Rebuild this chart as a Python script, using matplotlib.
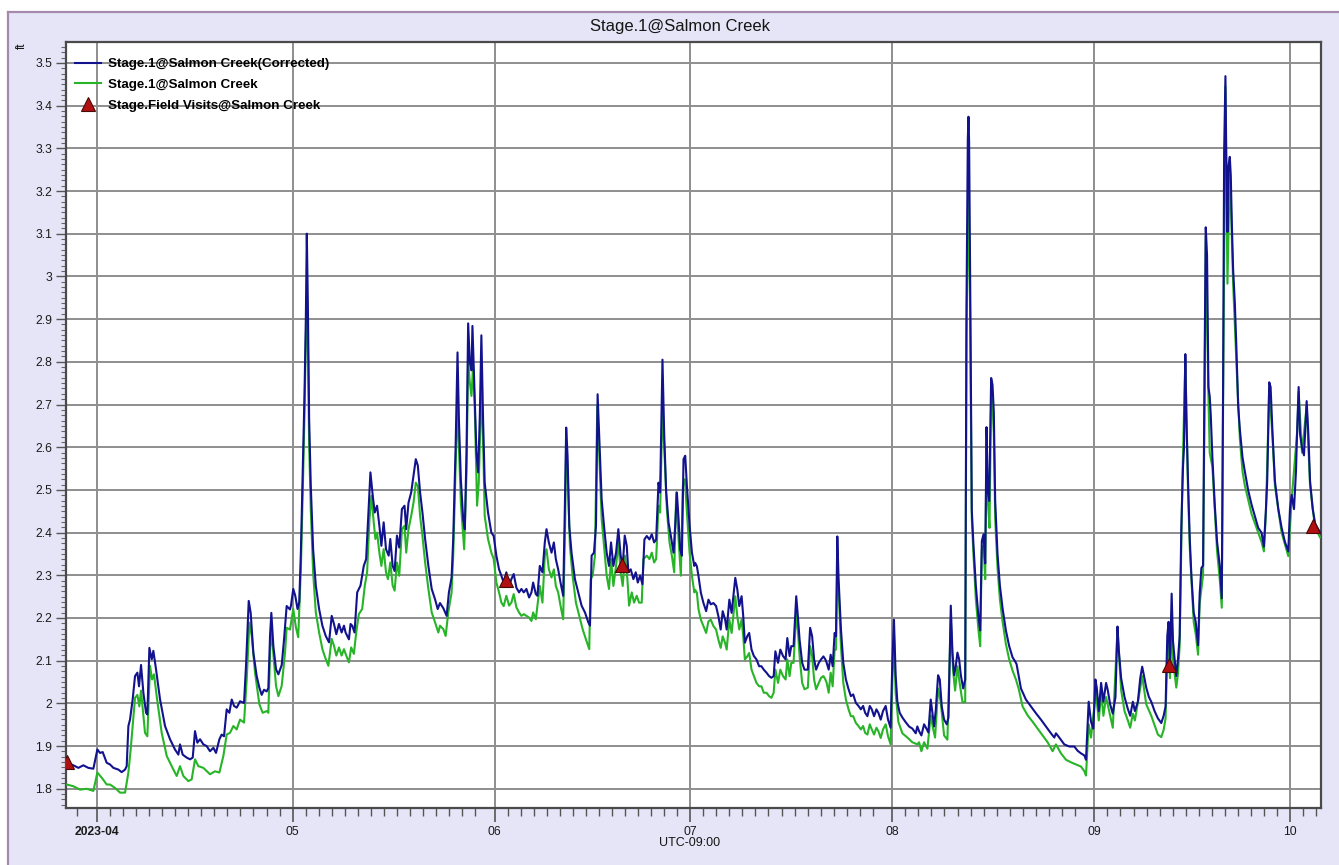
import numpy as np
import matplotlib
matplotlib.use("Agg")
import matplotlib.pyplot as plt
import matplotlib.dates as mdates
from matplotlib import font_manager
from matplotlib.ticker import MultipleLocator, FuncFormatter, FixedLocator
from matplotlib.lines import Line2D
from matplotlib.patches import Rectangle

# ---------------------------------------------------------------------------
# Data: days after 2023-04-01 00:00 (UTC-09:00) and stage in feet
# ---------------------------------------------------------------------------
START = np.datetime64("2023-04-01T00:00")

corr_day = [
    -4.6, -3.63, -2.86, -2.1, -1.33, -0.56, 0.05, 0.46, 0.87, 1.48, 1.99, 2.51, 3.27, 3.78,
    4.3, 4.55, 4.81, 5.06, 5.47, 5.83, 6.19, 6.44, 6.75, 7.11, 7.52, 7.72, 8.03, 8.39, 8.64,
    9.05, 9.66, 10.43, 11.2, 11.96, 12.48, 12.73, 13.14, 13.75, 14.27, 14.68, 15.03, 15.39,
    15.8, 16.31, 16.82, 17.33, 17.85, 18.25, 18.77, 19.12, 19.48, 19.89, 20.3, 20.66, 21.02,
    21.43, 21.94, 22.55, 22.86, 23.27, 23.57, 23.98, 24.49, 24.9, 25.26, 25.62, 26.02, 26.28,
    26.54, 26.74, 27.05, 27.46, 27.82, 28.33, 28.69, 29.09, 29.6,
    29.75, 30.1, 30.41, 30.76, 31.02, 31.27, 31.63, 31.83, 32.03, 32.18, 32.34, 32.54, 32.79,
    33.15, 33.56, 34.07, 34.57, 35.08, 35.59, 36.0, 36.35, 36.71, 37.11, 37.52, 37.88, 38.13,
    38.64, 38.89, 39.15, 39.5, 39.91, 40.42, 40.92, 41.28, 41.59, 41.94, 42.3, 42.6, 42.96,
    43.31, 43.62, 43.97, 44.33, 44.74, 44.99, 45.35, 45.65, 46.01, 46.36, 46.77, 47.17, 47.43,
    47.78, 48.19, 48.55, 48.9, 49.21, 49.56, 49.92, 50.33, 50.83, 51.34, 51.85, 52.26, 52.61,
    53.12, 53.63, 53.98, 54.39, 54.64, 55.0, 55.3, 55.51, 55.81, 56.17, 56.42, 56.68, 56.93,
    57.19, 57.44, 57.59, 57.85, 58.2, 58.46, 58.71, 58.96, 59.22, 59.47, 59.98, 60.49,
    60.85, 61.26, 61.67, 62.03, 62.38, 62.79, 63.21, 63.56, 63.92, 64.33, 64.74, 65.1, 65.46,
    65.87, 66.28, 66.64, 66.9, 67.31, 67.56, 67.92, 68.33, 68.69, 68.95, 69.31, 69.72, 70.08,
    70.38, 70.74, 71.1, 71.51, 71.77, 71.97, 72.18, 72.44, 72.79, 73.31, 73.82, 74.33, 74.85,
    75.36, 75.62, 75.87, 76.23, 76.54, 76.79, 77.05, 77.41, 77.77, 78.18, 78.54, 78.85, 79.21,
    79.62, 79.97, 80.33, 80.64, 80.95, 81.26, 81.51, 81.87, 82.28, 82.64, 82.95, 83.31, 83.67,
    83.97, 84.33, 84.74, 85.1, 85.46, 85.77, 86.13, 86.38, 86.74, 87.0, 87.31, 87.67, 88.03,
    88.44, 88.69, 88.95, 89.21, 89.46, 89.72, 89.97, 90.23, 90.49, 90.9, 91.26, 91.62,
    91.76, 92.02, 92.27, 92.63, 93.03, 93.44, 93.79, 94.15, 94.56, 94.96, 95.32, 95.67, 95.98,
    96.34, 96.59, 97.0, 97.35, 97.61, 97.91, 98.22, 98.52, 98.88, 99.13, 99.38, 99.74, 100.04,
    100.4, 100.76, 101.16, 101.57, 101.92, 102.28, 102.69, 103.09, 103.45, 103.8, 104.06,
    104.47, 104.82, 105.23, 105.63, 105.89, 106.24, 106.5, 106.85, 107.26, 107.51, 107.77,
    108.17, 108.53, 109.04, 109.39, 109.7, 110.0, 110.31, 110.72, 111.07, 111.43, 111.73,
    111.93, 112.24, 112.54, 112.85, 113.15, 113.36, 113.56, 113.76, 114.12, 114.48, 114.88,
    115.29, 115.64, 116.0, 116.41, 116.81, 117.17, 117.52, 117.83, 118.18, 118.54, 118.85,
    119.2, 119.56, 119.86, 120.22, 120.57, 120.98, 121.34, 121.74, 122.0, 122.25,
    122.51, 122.77, 123.13, 123.54, 124.05, 124.56, 125.07, 125.59, 125.84, 126.1, 126.46,
    126.87, 127.23, 127.53, 127.89, 128.15, 128.4, 128.66, 129.02, 129.28, 129.58, 129.94,
    130.35, 130.61, 130.97, 131.22, 131.48, 131.73, 131.99, 132.25, 132.51, 132.87, 133.18,
    133.38, 133.58, 133.68, 133.78, 133.99, 134.19, 134.45, 134.81, 135.22, 135.48, 135.73,
    135.99, 136.25, 136.45, 136.65, 136.86, 137.16, 137.37, 137.57, 137.78, 138.14, 138.5,
    138.91, 139.42, 139.93, 140.44, 140.85, 141.06, 141.37, 141.73, 142.49, 143.26, 144.03,
    144.8, 145.57, 146.33, 146.85, 147.1, 147.61, 148.38, 149.15, 149.92, 150.43, 150.94,
    151.46, 151.71, 152.12, 152.48, 152.84, 153.15,
    153.36, 153.67, 154.03, 154.38, 154.79, 155.05, 155.41, 155.82, 156.23, 156.54, 156.74,
    157.1, 157.62, 158.13, 158.49, 158.9, 159.21, 159.67, 160.03, 160.33, 160.54, 160.95,
    161.36, 161.72, 162.23, 162.74, 163.26, 163.62, 163.92, 164.18, 164.38, 164.59, 164.85,
    165.05, 165.31, 165.56, 165.82, 166.08, 166.33, 166.59, 166.74, 166.95, 167.1, 167.36,
    167.62, 167.87, 168.23, 168.54, 168.9, 169.15, 169.41, 169.67, 169.92, 170.08, 170.28,
    170.49, 170.69, 170.85, 171.1, 171.46, 171.82, 172.23, 172.54, 172.74, 172.9, 173.1,
    173.26, 173.41, 173.56, 173.77, 173.92, 174.08, 174.28, 174.54, 174.79, 175.05, 175.31,
    175.72, 176.08, 176.59, 177.1, 177.62, 178.13, 178.64, 179.0, 179.31, 179.51, 179.82,
    180.03, 180.33, 180.69, 181.21, 181.72, 182.23, 182.74, 183.0, 183.26, 183.62, 183.92,
    184.13, 184.33, 184.54, 184.85, 185.15, 185.56, 185.82, 186.08, 186.49, 186.85, 187.21,
    187.62,
]
corr_ft = [
    1.861, 1.855, 1.849, 1.855, 1.849, 1.847, 1.892, 1.884, 1.886, 1.861, 1.857, 1.849, 1.845,
    1.839, 1.845, 1.853, 1.947, 1.962, 2.01, 2.064, 2.072, 2.04, 2.09, 2.025, 1.978, 1.974,
    2.13, 2.103, 2.123, 2.08, 2.01, 1.947, 1.916, 1.892, 1.88, 1.904, 1.88, 1.873, 1.869,
    1.873, 1.935, 1.908, 1.916, 1.904, 1.9, 1.888, 1.896, 1.884, 1.916, 1.927, 1.923, 1.986,
    1.978, 2.009, 1.994, 1.99, 2.005, 2.001, 2.09, 2.24, 2.212, 2.119, 2.064, 2.037, 2.02,
    2.032, 2.028, 2.036, 2.158, 2.212, 2.134, 2.08, 2.068, 2.09, 2.15, 2.228, 2.22,
    2.229, 2.268, 2.252, 2.221, 2.237, 2.354, 2.588, 2.728, 2.9, 3.1, 2.938, 2.666, 2.51,
    2.361, 2.276, 2.221, 2.182, 2.158, 2.143, 2.205, 2.186, 2.162, 2.186, 2.166, 2.182, 2.166,
    2.15, 2.186, 2.182, 2.166, 2.26, 2.276, 2.322, 2.338, 2.431, 2.541, 2.486, 2.447, 2.463,
    2.416, 2.369, 2.424, 2.361, 2.346, 2.385, 2.322, 2.31, 2.393, 2.365, 2.455, 2.463, 2.408,
    2.47, 2.494, 2.533, 2.572, 2.557, 2.494, 2.447, 2.385, 2.322, 2.268, 2.244, 2.221, 2.235,
    2.223, 2.205, 2.26, 2.295, 2.385, 2.595, 2.822, 2.666, 2.525, 2.431, 2.408, 2.588, 2.89,
    2.798, 2.78, 2.884, 2.76, 2.588, 2.541, 2.666, 2.862, 2.666, 2.517, 2.447, 2.4,
    2.392, 2.346, 2.314, 2.299, 2.283, 2.307, 2.275, 2.291, 2.303, 2.271, 2.26, 2.268, 2.26,
    2.268, 2.248, 2.26, 2.283, 2.256, 2.252, 2.322, 2.307, 2.377, 2.408, 2.377, 2.353, 2.377,
    2.338, 2.314, 2.283, 2.252, 2.463, 2.646, 2.58, 2.416, 2.353, 2.291, 2.26, 2.229, 2.213,
    2.19, 2.182, 2.346, 2.353, 2.416, 2.724, 2.619, 2.478, 2.416, 2.353, 2.322, 2.377, 2.322,
    2.353, 2.408, 2.346, 2.322, 2.393, 2.369, 2.307, 2.314, 2.291, 2.307, 2.283, 2.299, 2.279,
    2.384, 2.392, 2.384, 2.396, 2.377, 2.384, 2.517, 2.494, 2.805, 2.634, 2.494, 2.424, 2.392,
    2.353, 2.416, 2.494, 2.431, 2.361, 2.346, 2.572, 2.58, 2.509, 2.416, 2.353, 2.322,
    2.329, 2.321, 2.298, 2.259, 2.235, 2.216, 2.243, 2.232, 2.235, 2.228, 2.204, 2.173, 2.216,
    2.197, 2.173, 2.243, 2.212, 2.251, 2.294, 2.267, 2.228, 2.251, 2.204, 2.142, 2.157, 2.165,
    2.126, 2.111, 2.103, 2.087, 2.087, 2.079, 2.072, 2.064, 2.06, 2.064, 2.122,
    2.095, 2.126, 2.111, 2.103, 2.153, 2.111, 2.134, 2.134, 2.251, 2.204, 2.15,
    2.095, 2.079, 2.079, 2.177, 2.157, 2.103, 2.079, 2.095, 2.103, 2.11, 2.103,
    2.095, 2.079, 2.114, 2.087, 2.165, 2.157, 2.391, 2.29, 2.173, 2.095, 2.056,
    2.033, 2.017, 2.021, 2.001, 1.994, 1.986, 1.994, 1.978, 1.97, 1.994, 1.986,
    1.97, 1.986, 1.978, 1.962, 1.982, 1.994, 1.962, 1.943, 2.095, 2.196,
    2.066, 2.004, 1.978, 1.967, 1.956, 1.946, 1.941, 1.93, 1.946, 1.935, 1.925,
    1.951, 1.941, 1.932, 2.009, 1.978, 1.946, 1.983, 2.066, 2.056, 1.993, 1.962,
    1.951, 1.967, 2.229, 2.119, 2.066, 2.087, 2.119, 2.103, 2.066, 2.035, 2.056,
    2.935, 3.322, 3.374, 3.316, 2.893, 2.453, 2.37, 2.276, 2.202, 2.171, 2.38,
    2.396, 2.328, 2.647, 2.495, 2.474, 2.762, 2.746, 2.683, 2.474, 2.349, 2.276,
    2.223, 2.171, 2.134, 2.108, 2.098, 2.092, 2.066, 2.035, 2.009, 1.993, 1.977,
    1.962, 1.946, 1.93, 1.92, 1.93, 1.92, 1.904, 1.899, 1.899, 1.889, 1.883,
    1.878, 1.868, 2.004, 1.957, 1.941, 2.056,
    2.037, 1.982, 2.048, 2.004, 2.048, 2.031, 1.998, 1.976, 2.015, 2.18, 2.125,
    2.059, 2.015, 1.987, 1.971, 2.004, 1.982, 2.004, 2.059, 2.086, 2.07, 2.037,
    2.015, 2.004, 1.982, 1.965, 1.954, 1.971, 1.993, 2.158, 2.191, 2.092, 2.257,
    2.147, 2.103, 2.064, 2.103, 2.158, 2.411, 2.554, 2.598, 2.818, 2.675, 2.521,
    2.389, 2.301, 2.213, 2.191, 2.136, 2.257, 2.317, 2.323, 2.829, 3.115, 3.049,
    2.741, 2.719, 2.675, 2.576, 2.466, 2.378, 2.323, 2.246, 2.741, 3.291, 3.469,
    3.236, 3.104, 3.258, 3.28, 3.236, 3.126, 3.016, 2.939, 2.829, 2.697, 2.642,
    2.576, 2.543, 2.499, 2.466, 2.438, 2.411, 2.4, 2.367, 2.455, 2.521, 2.752,
    2.741, 2.631, 2.521, 2.455, 2.411, 2.378, 2.356, 2.455, 2.488, 2.455, 2.543,
    2.653, 2.741, 2.631, 2.598, 2.581, 2.708, 2.631, 2.521, 2.455, 2.422, 2.411,
    2.4,
]

raw_day = [
    -4.65, -3.63, -2.61, -1.59, -0.56, 0.05, 0.72, 1.48, 1.99, 2.76, 3.53, 4.3, 4.81, 5.16,
    5.83, 6.19, 6.49, 6.75, 7.36, 7.72, 8.13, 8.44, 8.74, 9.15, 9.92, 10.69, 11.71, 12.22,
    12.73, 13.24, 14.01, 14.52, 15.03, 15.54, 16.31, 17.33, 18.1, 18.77, 19.38, 19.89, 20.4,
    20.91, 21.42, 21.94, 22.55, 22.96, 23.37, 23.73, 24.24, 24.9, 25.41, 26.02, 26.28, 26.64,
    26.95, 27.46, 27.82, 28.33, 28.84, 29.09, 29.6,
    30.1, 30.51, 30.86, 31.27, 31.63, 31.83, 32.03, 32.18, 32.34, 32.54, 32.79, 33.15, 33.56,
    34.07, 34.57, 35.08, 35.49, 36.0, 36.35, 36.71, 37.11, 37.52, 37.88, 38.23, 38.64, 38.99,
    39.4, 39.76, 40.16, 40.67, 41.08, 41.43, 41.79, 42.09, 42.45, 42.7, 42.96, 43.31, 43.62,
    43.97, 44.33, 44.63, 44.99, 45.35, 45.65, 46.01, 46.36, 46.77, 47.17, 47.43, 47.78, 48.19,
    48.55, 48.9, 49.21, 49.56, 49.92, 50.33, 50.83, 51.34, 51.85, 52.36, 52.61, 53.12, 53.48,
    53.88, 54.39, 54.64, 55.0, 55.3, 55.51, 55.81, 56.32, 56.68, 56.93, 57.19, 57.44, 57.69,
    57.95, 58.3, 58.56, 58.96, 59.27, 59.47, 59.98, 60.49,
    60.85, 61.26, 61.67, 62.03, 62.38, 62.79, 63.21, 63.56, 63.92, 64.33, 64.74, 65.1, 65.46,
    65.87, 66.28, 66.64, 66.9, 67.31, 67.56, 67.92, 68.33, 68.69, 68.95, 69.31, 69.72, 70.08,
    70.38, 70.74, 71.1, 71.51, 71.82, 71.97, 72.23, 72.54, 72.95, 73.46, 73.97, 74.49, 75.0,
    75.51, 75.72, 76.03, 76.38, 76.74, 77.05, 77.41, 77.77, 78.18, 78.54, 78.85, 79.21, 79.62,
    79.97, 80.33, 80.64, 81.0, 81.36, 81.62, 82.03, 82.38, 82.79, 83.15, 83.56, 83.82, 84.33,
    84.74, 85.1, 85.46, 85.77, 86.13, 86.38, 86.74, 87.0, 87.41, 87.82, 88.18, 88.54, 88.85,
    89.21, 89.56, 89.87, 90.18, 90.49, 90.9, 91.26, 91.62,
    91.76, 92.02, 92.27, 92.63, 93.03, 93.44, 93.79, 94.15, 94.56, 94.96, 95.32, 95.67, 95.98,
    96.34, 96.59, 97.0, 97.35, 97.61, 97.91, 98.22, 98.52, 98.88, 99.13, 99.38, 99.74, 100.04,
    100.4, 100.76, 101.16, 101.57, 101.92, 102.28, 102.69, 103.09, 103.45, 103.8, 104.06,
    104.47, 104.82, 105.23, 105.63, 105.89, 106.24, 106.5, 106.85, 107.26, 107.51, 107.77,
    108.17, 108.53, 109.04, 109.39, 109.7, 110.0, 110.31, 110.72, 111.07, 111.43, 111.73,
    111.93, 112.24, 112.54, 112.85, 113.15, 113.36, 113.56, 113.76, 114.12, 114.48, 114.88,
    115.29, 115.64, 116.0, 116.41, 116.81, 117.17, 117.52, 117.83, 118.18, 118.54, 118.85,
    119.2, 119.56, 119.86, 120.22, 120.57, 120.98, 121.34, 121.74, 122.0, 122.25,
    122.51, 122.92, 123.54, 124.31, 125.07, 125.84, 126.1, 126.46, 126.87, 127.38, 127.89,
    128.25, 128.56, 129.02, 129.43, 129.94, 130.45, 130.97, 131.32, 131.63, 131.99, 132.25,
    132.76, 133.18, 133.38, 133.68, 133.89, 134.19, 134.45, 134.81, 135.22, 135.48, 135.73,
    135.99, 136.25, 136.45, 136.65, 136.91, 137.16, 137.37, 137.57, 137.78, 138.14, 138.5,
    138.91, 139.42, 139.93, 140.44, 140.96, 141.37, 141.98, 142.75, 143.52, 144.28, 145.05,
    145.82, 146.59, 147.1, 147.87, 148.64, 149.41, 150.18, 150.94, 151.46, 151.71, 152.12,
    152.48, 152.99,
    153.15, 153.67, 154.03, 154.38, 154.79, 155.41, 155.82, 156.54, 157.1, 157.62, 158.13,
    158.49, 158.9, 159.21, 160.03, 160.33, 160.95, 161.72, 162.23, 162.74, 163.26, 163.62,
    163.92, 164.18, 164.38, 164.59, 164.85, 165.05, 165.31, 165.56, 165.82, 166.08, 166.49,
    166.95, 167.36, 167.62, 168.23, 168.54, 168.9, 169.15, 169.41, 169.67, 169.92, 170.08,
    170.49, 170.69, 171.1, 171.82, 172.23, 172.54, 172.74, 173.1, 173.41, 173.77, 174.28,
    174.79, 175.31, 175.72, 176.08, 176.59, 177.1, 177.62, 178.13, 178.64, 179.0, 179.31,
    179.82, 180.33, 180.69, 181.72, 182.74, 183.26, 184.13, 184.33, 184.85, 185.56, 186.08,
    186.85, 187.62,
]
raw_ft = [
    1.81, 1.806, 1.798, 1.8, 1.795, 1.838, 1.826, 1.81, 1.81, 1.802, 1.791, 1.791, 1.838, 1.892,
    2.013, 2.02, 1.993, 2.03, 1.931, 1.923, 2.088, 2.056, 2.068, 2.017, 1.931, 1.877, 1.845,
    1.83, 1.853, 1.83, 1.818, 1.822, 1.869, 1.853, 1.849, 1.834, 1.841, 1.838, 1.877, 1.927,
    1.931, 1.947, 1.939, 1.962, 1.955, 2.056, 2.189, 2.158, 2.072, 1.998, 1.978, 1.982, 1.978,
    2.166, 2.134, 2.041, 2.017, 2.041, 2.119, 2.177, 2.173,
    2.221, 2.178, 2.155, 2.314, 2.541, 2.681, 2.85, 2.95, 2.85, 2.603, 2.455, 2.307, 2.213,
    2.166, 2.127, 2.104, 2.088, 2.151, 2.135, 2.112, 2.131, 2.112, 2.127, 2.112, 2.096, 2.131,
    2.116, 2.166, 2.209, 2.221, 2.276, 2.307, 2.431, 2.486, 2.424, 2.385, 2.4, 2.353, 2.322,
    2.361, 2.307, 2.291, 2.33, 2.276, 2.264, 2.33, 2.299, 2.408, 2.416, 2.353, 2.408, 2.439,
    2.47, 2.517, 2.509, 2.439, 2.392, 2.33, 2.268, 2.213, 2.19, 2.166, 2.182, 2.174, 2.158,
    2.213, 2.26, 2.346, 2.55, 2.705, 2.603, 2.47, 2.361, 2.541, 2.8, 2.751, 2.72, 2.79,
    2.689, 2.463, 2.517, 2.74, 2.584, 2.439, 2.385, 2.353,
    2.338, 2.283, 2.26, 2.236, 2.228, 2.252, 2.229, 2.236, 2.256, 2.225, 2.213, 2.205, 2.209,
    2.205, 2.201, 2.193, 2.213, 2.197, 2.229, 2.275, 2.236, 2.346, 2.361, 2.314, 2.295, 2.314,
    2.275, 2.26, 2.229, 2.197, 2.431, 2.619, 2.525, 2.369, 2.299, 2.236, 2.205, 2.174, 2.15,
    2.127, 2.291, 2.299, 2.346, 2.697, 2.58, 2.432, 2.369, 2.299, 2.268, 2.338, 2.275, 2.322,
    2.377, 2.307, 2.275, 2.346, 2.291, 2.229, 2.26, 2.236, 2.252, 2.236, 2.236, 2.338, 2.346,
    2.338, 2.353, 2.33, 2.338, 2.463, 2.447, 2.697, 2.603, 2.455, 2.377, 2.346, 2.307, 2.494,
    2.385, 2.299, 2.509, 2.525, 2.447, 2.353, 2.299, 2.26,
    2.266, 2.259, 2.22, 2.196, 2.181, 2.165, 2.192, 2.196, 2.181, 2.173, 2.149, 2.13, 2.157,
    2.142, 2.126, 2.196, 2.165, 2.204, 2.251, 2.204, 2.173, 2.196, 2.157, 2.103, 2.11, 2.118,
    2.079, 2.064, 2.048, 2.04, 2.04, 2.025, 2.025, 2.017, 2.013, 2.025, 2.079,
    2.048, 2.079, 2.064, 2.056, 2.103, 2.064, 2.095, 2.095, 2.212, 2.173, 2.111,
    2.048, 2.033, 2.037, 2.134, 2.111, 2.056, 2.033, 2.048, 2.06, 2.064, 2.056,
    2.048, 2.025, 2.072, 2.04, 2.126, 2.126, 2.329, 2.267, 2.134, 2.048, 2.009,
    1.986, 1.97, 1.97, 1.954, 1.947, 1.939, 1.947, 1.931, 1.927, 1.951, 1.939,
    1.927, 1.943, 1.935, 1.919, 1.939, 1.951, 1.923, 1.904, 2.048, 2.16,
    2.024, 1.957, 1.93, 1.92, 1.909, 1.904, 1.909, 1.888, 1.909, 1.894, 1.972,
    1.941, 1.92, 2.035, 2.003, 1.925, 1.915, 2.198, 2.077, 2.03, 2.087, 2.056,
    2.003, 2.003, 2.87, 3.19, 2.98, 2.432, 2.348, 2.244, 2.171, 2.134, 2.36,
    2.369, 2.291, 2.61, 2.474, 2.411, 2.725, 2.704, 2.631, 2.432, 2.317, 2.244,
    2.192, 2.139, 2.103, 2.077, 2.056, 2.035, 1.993, 1.972, 1.957, 1.941, 1.925,
    1.909, 1.888, 1.904, 1.883, 1.868, 1.862, 1.857, 1.852, 1.841, 1.831, 1.951,
    1.92, 1.993,
    2.037, 1.96, 2.026, 1.971, 2.015, 1.971, 1.943, 2.174, 2.031, 1.982, 1.96,
    1.943, 1.976, 1.96, 2.037, 2.064, 1.998, 1.971, 1.949, 1.927, 1.921, 1.938,
    1.965, 2.125, 2.153, 2.059, 2.213, 2.103, 2.07, 2.037, 2.07, 2.136, 2.521,
    2.807, 2.499, 2.367, 2.191, 2.163, 2.114, 2.235, 2.268, 2.301, 2.73, 3.093,
    2.719, 2.587, 2.554, 2.356, 2.29, 2.224, 2.7, 3.445, 2.983, 3.258, 2.983,
    2.796, 2.62, 2.543, 2.51, 2.477, 2.444, 2.422, 2.4, 2.378, 2.356, 2.444,
    2.741, 2.62, 2.51, 2.4, 2.345, 2.477, 2.642, 2.73, 2.587, 2.697, 2.51,
    2.411, 2.389,
]

visit_day = [-4.55, 62.7, 80.5, 164.5, 186.5]
visit_ft = [1.862, 2.29, 2.325, 2.09, 2.415]

series_names = [
    "Stage.1@Salmon Creek(Corrected)",
    "Stage.1@Salmon Creek",
    "Stage.Field Visits@Salmon Creek",
]
month_labels = ["2023-04", "05", "06", "07", "08", "09", "10"]
month_starts = ["2023-04-01", "2023-05-01", "2023-06-01", "2023-07-01",
                "2023-08-01", "2023-09-01", "2023-10-01"]
chart_title = "Stage.1@Salmon Creek"
unit_label = "ft"
zone_label = "UTC-09:00"


def to_time(days):
    secs = np.round(np.asarray(days, dtype=float) * 86400).astype("int64")
    return START + secs.astype("timedelta64[s]")


# ---------------------------------------------------------------------------
# Fonts: a narrow sans if one is installed, otherwise Liberation Sans
# ---------------------------------------------------------------------------
available = {f.name for f in font_manager.fontManager.ttflist}
FACE = "Liberation Sans"
for cand in ("Liberation Sans Narrow", "Arial Narrow", "Nimbus Sans Narrow"):
    if cand in available:
        FACE = cand
        break
FAMILY = [FACE, "DejaVu Sans"]
plt.rcParams["font.family"] = FAMILY

# ---------------------------------------------------------------------------
# Figure layout (pixel based)
# ---------------------------------------------------------------------------
W, H = 1339, 865
fig = plt.figure(figsize=(W / 100, H / 100), dpi=100)
fig.patch.set_facecolor("white")

PANEL = "#E5E5F7"
fig.add_artist(Rectangle((8 / W, 0), 1 - 8 / W, 1 - 12 / H, transform=fig.transFigure,
                         facecolor=PANEL, edgecolor="none", zorder=0))
fig.add_artist(Line2D([8 / W, 1], [1 - 12 / H, 1 - 12 / H], transform=fig.transFigure,
                      color="#A58AAE", lw=1.6, zorder=1))
fig.add_artist(Line2D([8 / W, 8 / W], [0, 1 - 12 / H], transform=fig.transFigure,
                      color="#A58AAE", lw=1.6, zorder=1))

L, R, T, B = 66, 1321, 42, 808
ax = fig.add_axes([L / W, 1 - B / H, (R - L) / W, (B - T) / H])
ax.set_facecolor("white")

BLUE = "#12128E"
GREEN = "#27B427"
RED = "#B01010"

# ---------------------------------------------------------------------------
# Series
# ---------------------------------------------------------------------------
ax.plot(to_time(raw_day), raw_ft, color=GREEN, lw=1.5, zorder=3, label=series_names[1])
ax.plot(to_time(corr_day), corr_ft, color=BLUE, lw=1.5, zorder=4, label=series_names[0])
ax.plot(to_time(visit_day), visit_ft, linestyle="none", marker="^", ms=10,
        markerfacecolor=RED, markeredgecolor="#4A0808", markeredgewidth=0.8,
        zorder=5, label=series_names[2])

# ---------------------------------------------------------------------------
# Axes, ticks and grid
# ---------------------------------------------------------------------------
ax.set_xlim(to_time([-4.76])[0], to_time([187.76])[0])
ax.set_ylim(1.755, 3.549)

ax.yaxis.set_major_locator(MultipleLocator(0.1))
ax.yaxis.set_minor_locator(MultipleLocator(0.0125))
ax.yaxis.set_major_formatter(FuncFormatter(lambda v, p: f"{v:g}"))

month_pos = [np.datetime64(m) for m in month_starts]
ax.xaxis.set_major_locator(FixedLocator(mdates.date2num(month_pos)))
ax.xaxis.set_minor_locator(mdates.DayLocator(bymonthday=list(range(3, 30, 2))))
ax.set_xticklabels(month_labels)
for i, lab in enumerate(ax.get_xticklabels()):
    lab.set_fontweight("bold" if i == 0 else "normal")

ax.grid(True, which="major", color="#8E8E8E", lw=1.4, zorder=1)
ax.set_axisbelow(True)

ax.tick_params(axis="both", which="major", direction="out", color="#555555",
               labelsize=8.7, labelcolor="#1A1A1A")
ax.tick_params(axis="y", which="major", length=7, width=1, pad=3)
ax.tick_params(axis="y", which="minor", length=3.5, width=0.8, color="#666666")
ax.tick_params(axis="x", which="major", length=10, width=1.2, pad=3)
ax.tick_params(axis="x", which="minor", length=6, width=1, color="#555555")

for side in ("top", "right", "left", "bottom"):
    ax.spines[side].set_color("#4A4A4A")
    ax.spines[side].set_linewidth(1.6)

# ---------------------------------------------------------------------------
# Legend and labels
# ---------------------------------------------------------------------------
handles = [
    Line2D([], [], color=BLUE, lw=1.5),
    Line2D([], [], color=GREEN, lw=1.5),
    Line2D([], [], linestyle="none", marker="^", ms=10, markerfacecolor=RED,
           markeredgecolor="#4A0808", markeredgewidth=0.8),
]
leg = ax.legend(handles, series_names, loc="upper left",
                bbox_to_anchor=(75 / W, 1 - 58 / H), bbox_transform=fig.transFigure,
                frameon=False, handlelength=1.95, handletextpad=0.55, labelspacing=0.63,
                borderaxespad=0.0, borderpad=0.0,
                prop={"family": FAMILY, "weight": "bold", "size": 9.6})
leg.set_zorder(6)

fig.text(680 / W, 1 - 27 / H, chart_title, ha="center", va="center",
         fontsize=12, color="#151515")
fig.text(22 / W, 1 - 46 / H, unit_label, ha="center", va="center", rotation=90,
         fontsize=8.5, color="#151515")
fig.text(690 / W, 1 - 843 / H, zone_label, ha="center", va="center",
         fontsize=9, color="#151515")

fig.savefig("out.png", dpi=100, facecolor=fig.get_facecolor())
